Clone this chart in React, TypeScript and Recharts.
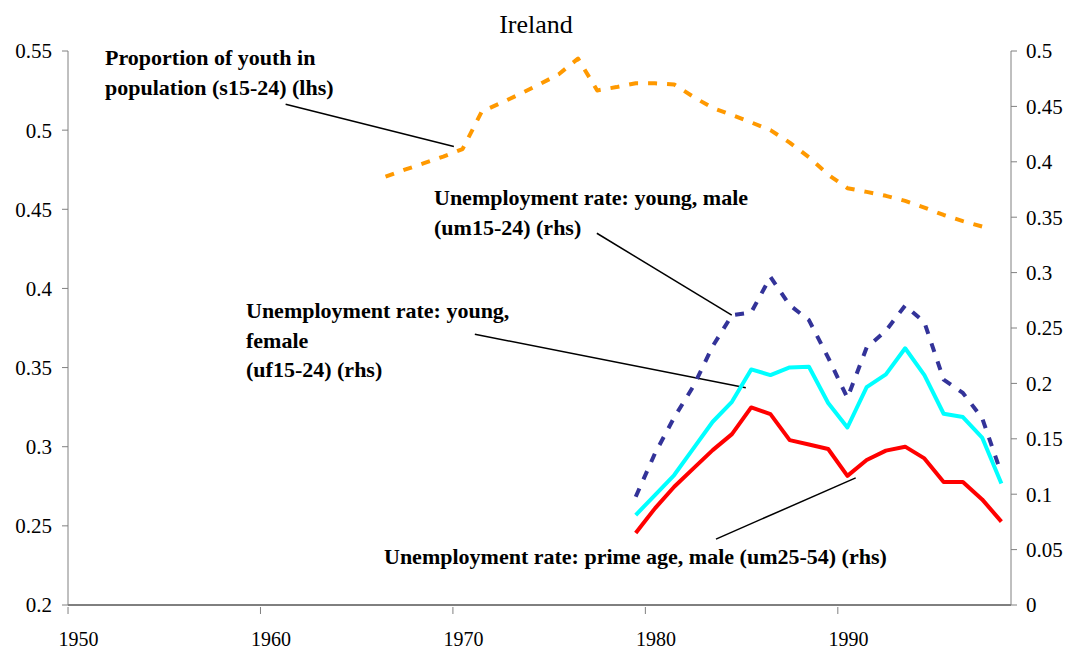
import React from 'react';
import { LineChart, Line, XAxis, YAxis, ReferenceLine } from 'recharts';

// yearly categories shown on the chart
const years = [
  1966, 1967, 1968, 1969, 1970, 1971, 1972, 1973, 1974, 1975, 1976,
  1977, 1978, 1979, 1980, 1981, 1982, 1983, 1984, 1985, 1986, 1987,
  1988, 1989, 1990, 1991, 1992, 1993, 1994, 1995, 1996, 1997, 1998,
];

// s15-24, 1966-1997 (lhs)
const youthShare = [
  0.4706, 0.475, 0.4791, 0.4833, 0.488, 0.5117, 0.5172, 0.5229, 0.529, 0.5353, 0.5452,
  0.5251, 0.5272, 0.5296, 0.5296, 0.5288, 0.521, 0.514, 0.5096, 0.5049, 0.5, 0.4921,
  0.4829, 0.4719, 0.4633, 0.461, 0.4585, 0.4553, 0.4511, 0.4464, 0.4425, 0.4391,
];

// unemployment rates, 1979-1998 (rhs)
const unempStart = 1979;
const um1524 = [
  0.0977, 0.1368, 0.1693, 0.1975, 0.2336, 0.2616, 0.264, 0.2961, 0.2706, 0.2571,
  0.2233, 0.1869, 0.2324, 0.2475, 0.2703, 0.2551, 0.2035, 0.1914, 0.1687, 0.1186,
];
const uf1524 = [
  0.0812, 0.0992, 0.1173, 0.1413, 0.1654, 0.1834, 0.2126, 0.2075, 0.2144, 0.215,
  0.1823, 0.1602, 0.1966, 0.2081, 0.2317, 0.2075, 0.1726, 0.1696, 0.1511, 0.1096,
];
const um2554 = [
  0.065, 0.0872, 0.1067, 0.1233, 0.1398, 0.1542, 0.1783, 0.1723, 0.1488, 0.1449,
  0.1408, 0.1165, 0.1308, 0.1393, 0.1429, 0.1323, 0.111, 0.111, 0.0953, 0.0753,
];

const xTicks = [1950, 1960, 1970, 1980, 1990];
const leftTicks = [0.2, 0.25, 0.3, 0.35, 0.4, 0.45, 0.5, 0.55];
const rightTicks = [0, 0.05, 0.1, 0.15, 0.2, 0.25, 0.3, 0.35, 0.4, 0.45, 0.5];

// leader lines from the labels to the series
const youthLeader = [{ x: 1960.81, y: 0.5163 }, { x: 1969.55, y: 0.4897 }];
const maleLeader = [{ x: 1976.98, y: 0.3355 }, { x: 1983.99, y: 0.2616 }];
const femaleLeader = [{ x: 1970.64, y: 0.2444 }, { x: 1984.72, y: 0.196 }];
const primeLeader = [{ x: 1983.17, y: 0.0595 }, { x: 1990.43, y: 0.1147 }];

const rows = years.map((year, i) => {
  const j = year - unempStart;
  return {
    year,
    youth: i < youthShare.length ? youthShare[i] : null,
    um1524: j >= 0 ? um1524[j] : null,
    uf1524: j >= 0 ? uf1524[j] : null,
    um2554: j >= 0 ? um2554[j] : null,
  };
});

const FONT = '"Liberation Serif", "Times New Roman", serif';
const HALF_SLOT = 9.6;

function YearTick(props: any) {
  const { x, y, payload } = props;
  return (
    <g>
      <line x1={x - HALF_SLOT} x2={x - HALF_SLOT} y1={y} y2={y + 7} stroke="#808080" />
      <text x={x + 1} y={y + 32} dy="0.355em" textAnchor="middle" fontSize={20} fontFamily={FONT} fill="#000">
        {payload.value}
      </text>
    </g>
  );
}

const labelStyle: React.CSSProperties = {
  position: 'absolute',
  fontFamily: FONT,
  fontWeight: 'bold',
  fontSize: 22,
  lineHeight: '29.5px',
  whiteSpace: 'nowrap',
  color: '#000',
};

export default function App() {
  const tickStyle = { fontSize: 21, fill: '#000', fontFamily: FONT };
  return (
    <div style={{ position: 'absolute', left: 0, top: 0, width: 1074, height: 652, fontFamily: FONT, background: '#fff' }}>
      <LineChart width={1074} height={652} data={rows} margin={{ top: 51, right: 0, bottom: 0, left: 0 }}>
        <XAxis
          dataKey="year"
          type="number"
          domain={[1949.5, 1998.5]}
          allowDataOverflow
          ticks={xTicks}
          tick={<YearTick />}
          tickLine={false}
          tickSize={0}
          height={47}
          axisLine={{ stroke: '#000' }}
        />
        <YAxis
          yAxisId="left"
          domain={[0.2, 0.55]}
          ticks={leftTicks}
          width={68}
          tick={tickStyle}
          tickSize={6}
          tickMargin={10}
          axisLine={{ stroke: '#808080' }}
          tickLine={{ stroke: '#808080' }}
          allowDataOverflow
        />
        <YAxis
          yAxisId="right"
          orientation="right"
          domain={[0, 0.5]}
          ticks={rightTicks}
          width={63}
          tick={tickStyle}
          tickSize={6}
          tickMargin={9}
          axisLine={{ stroke: '#808080' }}
          tickLine={{ stroke: '#808080' }}
          allowDataOverflow
        />
        <ReferenceLine yAxisId="left" segment={youthLeader} stroke="#000" strokeWidth={1.5} />
        <ReferenceLine yAxisId="right" segment={maleLeader} stroke="#000" strokeWidth={1.5} />
        <ReferenceLine yAxisId="right" segment={femaleLeader} stroke="#000" strokeWidth={1.5} />
        <ReferenceLine yAxisId="right" segment={primeLeader} stroke="#000" strokeWidth={1.5} />
        <Line
          yAxisId="left"
          dataKey="youth"
          stroke="#FF9900"
          strokeWidth={4}
          strokeDasharray="9 10"
          strokeLinejoin="round"
          dot={false}
          isAnimationActive={false}
        />
        <Line
          yAxisId="right"
          dataKey="um1524"
          stroke="#333399"
          strokeWidth={4}
          strokeDasharray="9 10"
          strokeLinejoin="round"
          dot={false}
          isAnimationActive={false}
        />
        <Line
          yAxisId="right"
          dataKey="uf1524"
          stroke="#00FFFF"
          strokeWidth={4}
          strokeLinejoin="round"
          dot={false}
          isAnimationActive={false}
        />
        <Line
          yAxisId="right"
          dataKey="um2554"
          stroke="#FF0000"
          strokeWidth={4}
          strokeLinejoin="round"
          dot={false}
          isAnimationActive={false}
        />
      </LineChart>
      <div
        style={{
          position: 'absolute',
          left: 0,
          width: 1072,
          top: 10,
          textAlign: 'center',
          fontFamily: FONT,
          fontSize: 26,
          lineHeight: '30px',
        }}
      >
        Ireland
      </div>
      <div style={{ ...labelStyle, left: 105, top: 43 }}>
        Proportion of youth in
        <br />
        population (s15-24) (lhs)
      </div>
      <div style={{ ...labelStyle, left: 434, top: 183 }}>
        Unemployment rate: young, male
        <br />
        (um15-24) (rhs)
      </div>
      <div style={{ ...labelStyle, left: 246, top: 296 }}>
        Unemployment rate: young,
        <br />
        female
        <br />
        (uf15-24) (rhs)
      </div>
      <div style={{ ...labelStyle, left: 384, top: 542 }}>
        Unemployment rate: prime age, male (um25-54) (rhs)
      </div>
    </div>
  );
}
